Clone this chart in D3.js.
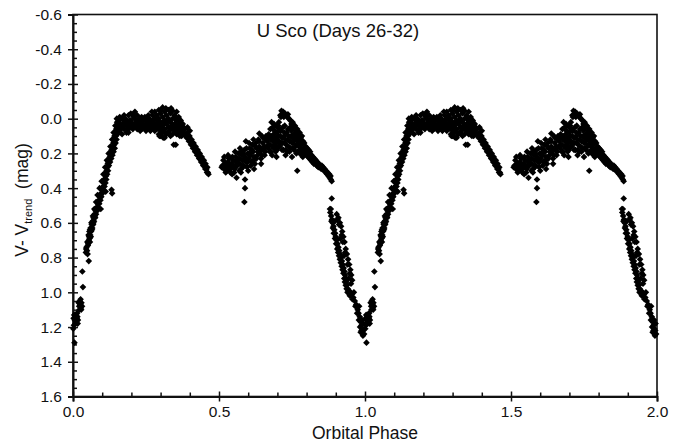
<!DOCTYPE html>
<html>
<head>
<meta charset="utf-8">
<script src="https://cdn.jsdelivr.net/npm/d3@7"></script>
<style>
body { margin: 0; background: #fff; }
svg text { font-family: "Liberation Sans", Arial, Helvetica, sans-serif; fill: #111; }
</style>
</head>
<body>
<div id="target"></div>
<script>
var width = 685,
    height = 445;

// axis ticks
var xTicks = [0, 0.5, 1, 1.5, 2];
var yTicks = [-0.6, -0.4, -0.2, 0, 0.2, 0.4, 0.6, 0.8, 1.0, 1.2, 1.4, 1.6];

// phased light curve, [phase, V - Vtrend] (one cycle, drawn twice)
var egress = [
    [0.001, 1.21], [0.003, 1.19], [0.005, 1.29], [0.006, 1.16], [0.008, 1.14], [0.010, 1.17],
    [0.011, 1.13], [0.013, 1.15], [0.015, 1.14], [0.017, 1.16], [0.019, 1.06], [0.021, 1.08],
    [0.023, 1.05], [0.025, 1.07], [0.027, 1.09], [0.029, 1.06], [0.031, 1.08], [0.032, 0.88],
    [0.034, 0.97], [0.054, 0.82], [0.004, 1.13], [0.009, 1.18], [0.014, 1.12], [0.016, 1.18],
    [0.022, 1.10], [0.026, 1.04], [0.028, 1.10], [0.002, 1.15]
];
var riseBranch = [
    [0.044, 0.77], [0.048, 0.76], [0.046, 0.74], [0.051, 0.73], [0.049, 0.71], [0.054, 0.70],
    [0.057, 0.69], [0.053, 0.67], [0.059, 0.67], [0.056, 0.65], [0.062, 0.65], [0.060, 0.63],
    [0.066, 0.63], [0.064, 0.61], [0.069, 0.61], [0.067, 0.59], [0.072, 0.59], [0.070, 0.57],
    [0.076, 0.57], [0.074, 0.55], [0.079, 0.55], [0.077, 0.53], [0.083, 0.53], [0.081, 0.51],
    [0.086, 0.51], [0.085, 0.49], [0.090, 0.49], [0.088, 0.47], [0.094, 0.47], [0.092, 0.45],
    [0.097, 0.45], [0.096, 0.43], [0.101, 0.43], [0.099, 0.41], [0.104, 0.41], [0.103, 0.39],
    [0.108, 0.39], [0.106, 0.37], [0.111, 0.37], [0.109, 0.35], [0.114, 0.35], [0.113, 0.33],
    [0.117, 0.32], [0.115, 0.30], [0.120, 0.30], [0.118, 0.28], [0.123, 0.27], [0.121, 0.25],
    [0.127, 0.25], [0.125, 0.23], [0.131, 0.23], [0.129, 0.21], [0.135, 0.21], [0.133, 0.19],
    [0.139, 0.19], [0.137, 0.17], [0.143, 0.17], [0.141, 0.15], [0.146, 0.14], [0.144, 0.12],
    [0.149, 0.12], [0.147, 0.10], [0.152, 0.09], [0.150, 0.07], [0.155, 0.07], [0.153, 0.05],
    [0.157, 0.04], [0.155, 0.02], [0.132, 0.41], [0.134, 0.43],
    [0.050, 0.78], [0.045, 0.75], [0.052, 0.72], [0.058, 0.71], [0.055, 0.68], [0.061, 0.68],
    [0.058, 0.64], [0.065, 0.64], [0.063, 0.60], [0.070, 0.60], [0.068, 0.56], [0.075, 0.56],
    [0.073, 0.52], [0.080, 0.52], [0.079, 0.48], [0.087, 0.48], [0.084, 0.44], [0.093, 0.44],
    [0.091, 0.40], [0.100, 0.40], [0.098, 0.36], [0.106, 0.35], [0.104, 0.32], [0.112, 0.31],
    [0.110, 0.28], [0.119, 0.26], [0.116, 0.24], [0.126, 0.22], [0.122, 0.20], [0.132, 0.18],
    [0.128, 0.16], [0.138, 0.14], [0.134, 0.12], [0.142, 0.10], [0.139, 0.08], [0.148, 0.06],
    [0.145, 0.04], [0.151, 0.02], [0.150, 0.00], [0.112, 0.42], [0.095, 0.52]
];
var firstHump = [
    [0.160, -0.01], [0.160, 0.03], [0.160, 0.07], [0.168, 0.00], [0.168, 0.05], [0.168, 0.09],
    [0.175, -0.02], [0.175, 0.02], [0.175, 0.06], [0.183, 0.01], [0.183, 0.04], [0.183, 0.08],
    [0.190, -0.02], [0.190, 0.03], [0.190, 0.06], [0.198, -0.03], [0.198, 0.01], [0.198, 0.05],
    [0.205, -0.02], [0.205, 0.03], [0.205, 0.06], [0.212, -0.04], [0.212, 0.00], [0.212, 0.04],
    [0.220, -0.02], [0.220, 0.02], [0.220, 0.06], [0.228, 0.00], [0.228, 0.04], [0.235, -0.01],
    [0.235, 0.03], [0.235, 0.06], [0.243, 0.01], [0.243, 0.05], [0.250, 0.00], [0.250, 0.03],
    [0.250, 0.07], [0.258, -0.02], [0.258, 0.02], [0.258, 0.05], [0.265, 0.01], [0.265, 0.04],
    [0.265, 0.07], [0.272, -0.02], [0.272, 0.02], [0.272, 0.05], [0.280, -0.04], [0.280, 0.00],
    [0.280, 0.04], [0.280, 0.07], [0.287, -0.02], [0.287, 0.03], [0.287, 0.06], [0.294, -0.05],
    [0.294, 0.00], [0.294, 0.05], [0.294, 0.09], [0.300, -0.03], [0.300, 0.02], [0.300, 0.07],
    [0.300, 0.10], [0.307, -0.065], [0.307, -0.01], [0.307, 0.04], [0.307, 0.08], [0.314, -0.04],
    [0.314, 0.01], [0.314, 0.06], [0.314, 0.11], [0.320, -0.02], [0.320, 0.03], [0.320, 0.09],
    [0.327, -0.05], [0.327, 0.00], [0.327, 0.05], [0.327, 0.08], [0.334, -0.03], [0.334, 0.02],
    [0.334, 0.06], [0.334, 0.10], [0.341, -0.045], [0.341, 0.00], [0.341, 0.04], [0.341, 0.09],
    [0.348, -0.02], [0.348, 0.03], [0.348, 0.07], [0.355, -0.04], [0.355, 0.01], [0.355, 0.05],
    [0.355, 0.09], [0.362, -0.01], [0.362, 0.03], [0.362, 0.07], [0.369, 0.01], [0.369, 0.05],
    [0.369, 0.09], [0.376, 0.03], [0.376, 0.07], [0.345, 0.15], [0.352, 0.15],
    [0.158, 0.01], [0.163, 0.05], [0.171, 0.03], [0.179, 0.00], [0.186, 0.06], [0.194, 0.01],
    [0.201, 0.04], [0.208, -0.01], [0.216, 0.02], [0.224, 0.05], [0.231, 0.01], [0.239, 0.04],
    [0.246, -0.01], [0.254, 0.05], [0.261, 0.00], [0.269, 0.06], [0.276, 0.02], [0.283, 0.05],
    [0.290, 0.01], [0.297, 0.03], [0.304, 0.06], [0.310, 0.02], [0.317, 0.08], [0.323, 0.01],
    [0.330, 0.07], [0.337, 0.04], [0.344, 0.06], [0.351, 0.00], [0.358, 0.07], [0.365, 0.05],
    [0.372, 0.03], [0.379, 0.05], [0.190, 0.08], [0.230, 0.07], [0.270, -0.04], [0.301, -0.05],
    [0.318, -0.06], [0.336, -0.06], [0.309, 0.11], [0.296, 0.10], [0.366, 0.10], [0.372, 0.10]
];
var firstDecline = [
    [0.383, 0.06], [0.387, 0.09], [0.392, 0.08], [0.395, 0.11], [0.399, 0.10], [0.402, 0.13],
    [0.406, 0.12], [0.410, 0.15], [0.413, 0.14], [0.416, 0.17], [0.420, 0.16], [0.423, 0.19],
    [0.427, 0.18], [0.430, 0.21], [0.434, 0.20], [0.437, 0.23], [0.441, 0.22], [0.444, 0.25],
    [0.448, 0.24], [0.451, 0.27], [0.454, 0.26], [0.457, 0.29], [0.460, 0.28], [0.462, 0.31],
    [0.381, 0.09], [0.389, 0.11], [0.397, 0.13], [0.404, 0.15], [0.411, 0.17], [0.418, 0.19],
    [0.425, 0.21], [0.432, 0.23], [0.439, 0.25], [0.446, 0.27], [0.453, 0.29], [0.459, 0.31],
    [0.464, 0.32], [0.392, 0.05], [0.400, 0.07]
];
var secondRise = [
    [0.512, 0.27], [0.515, 0.24], [0.517, 0.29], [0.521, 0.26], [0.524, 0.28], [0.527, 0.30],
    [0.530, 0.25], [0.533, 0.27], [0.536, 0.29], [0.539, 0.31], [0.542, 0.26], [0.545, 0.28],
    [0.548, 0.24], [0.551, 0.27], [0.554, 0.29], [0.557, 0.22], [0.560, 0.25], [0.563, 0.27],
    [0.566, 0.20], [0.569, 0.23], [0.572, 0.26], [0.575, 0.29], [0.578, 0.21], [0.581, 0.24],
    [0.584, 0.27], [0.587, 0.18], [0.590, 0.22], [0.593, 0.25], [0.596, 0.28], [0.599, 0.20],
    [0.602, 0.23], [0.605, 0.17], [0.608, 0.21], [0.611, 0.25], [0.614, 0.15], [0.617, 0.19],
    [0.620, 0.22], [0.623, 0.26], [0.626, 0.14], [0.629, 0.17], [0.632, 0.21], [0.635, 0.12],
    [0.638, 0.16], [0.641, 0.19], [0.644, 0.23], [0.647, 0.10], [0.650, 0.14], [0.653, 0.18],
    [0.656, 0.21], [0.659, 0.12], [0.662, 0.16], [0.555, 0.19], [0.592, 0.13], [0.638, 0.085],
    [0.560, 0.34], [0.589, 0.35], [0.589, 0.40], [0.587, 0.48], [0.644, 0.26], [0.620, 0.29],
    [0.545, 0.32], [0.575, 0.31], [0.600, 0.30], [0.509, 0.28],
    [0.518, 0.22], [0.523, 0.31], [0.529, 0.28], [0.534, 0.23], [0.540, 0.29], [0.546, 0.22],
    [0.552, 0.31], [0.558, 0.27], [0.564, 0.24], [0.570, 0.30], [0.576, 0.19], [0.582, 0.28],
    [0.588, 0.23], [0.594, 0.17], [0.598, 0.25], [0.604, 0.20], [0.609, 0.27], [0.613, 0.18],
    [0.618, 0.24], [0.624, 0.16], [0.628, 0.23], [0.633, 0.19], [0.637, 0.13], [0.642, 0.17],
    [0.646, 0.21], [0.651, 0.11], [0.655, 0.16], [0.658, 0.19], [0.661, 0.10], [0.531, 0.21],
    [0.572, 0.17], [0.603, 0.14], [0.618, 0.12], [0.584, 0.20]
];
var secondPeak = [
    [0.670, 0.09], [0.676, 0.06], [0.680, 0.02], [0.684, 0.05], [0.690, 0.07], [0.695, 0.04],
    [0.700, 0.08], [0.705, 0.02], [0.710, -0.02], [0.714, -0.045], [0.718, -0.03], [0.722, -0.01],
    [0.726, -0.03], [0.731, -0.02], [0.736, -0.025], [0.740, 0.00], [0.744, 0.01], [0.748, 0.03],
    [0.752, 0.02], [0.756, 0.05], [0.760, 0.04], [0.764, 0.07], [0.768, 0.06], [0.772, 0.09],
    [0.776, 0.08], [0.780, 0.11], [0.784, 0.10], [0.788, 0.13],
    [0.665, 0.13], [0.668, 0.17], [0.672, 0.11], [0.675, 0.15], [0.678, 0.19], [0.682, 0.10],
    [0.685, 0.13], [0.688, 0.17], [0.692, 0.11], [0.695, 0.14], [0.698, 0.18], [0.702, 0.10],
    [0.705, 0.13], [0.708, 0.16], [0.712, 0.07], [0.715, 0.11], [0.718, 0.14], [0.721, 0.18],
    [0.724, 0.08], [0.727, 0.12], [0.730, 0.15], [0.733, 0.19], [0.736, 0.06], [0.739, 0.10],
    [0.742, 0.13], [0.745, 0.17], [0.748, 0.07], [0.751, 0.11], [0.754, 0.14], [0.757, 0.18],
    [0.760, 0.09], [0.763, 0.12], [0.766, 0.15], [0.769, 0.19], [0.772, 0.13], [0.775, 0.16],
    [0.778, 0.20], [0.781, 0.15], [0.784, 0.18], [0.787, 0.22], [0.790, 0.17],
    [0.697, 0.22], [0.768, 0.30], [0.682, 0.21], [0.728, 0.21], [0.750, 0.22], [0.725, 0.04],
    [0.700, 0.05],
    [0.667, 0.10], [0.671, 0.15], [0.674, 0.19], [0.679, 0.12], [0.683, 0.16], [0.687, 0.09],
    [0.691, 0.15], [0.694, 0.19], [0.699, 0.12], [0.703, 0.16], [0.707, 0.06], [0.710, 0.10],
    [0.713, 0.14], [0.716, 0.18], [0.719, 0.05], [0.723, 0.10], [0.726, 0.14], [0.729, 0.18],
    [0.732, 0.08], [0.735, 0.12], [0.738, 0.16], [0.741, 0.19], [0.744, 0.05], [0.747, 0.10],
    [0.750, 0.14], [0.753, 0.17], [0.756, 0.09], [0.759, 0.12], [0.762, 0.16], [0.765, 0.20],
    [0.768, 0.10], [0.771, 0.15], [0.774, 0.19], [0.777, 0.12], [0.780, 0.17], [0.783, 0.21],
    [0.786, 0.14], [0.789, 0.19], [0.712, -0.01], [0.720, -0.04], [0.733, -0.01], [0.703, 0.04],
    [0.688, 0.03]
];
var secondDecline = [
    [0.792, 0.14], [0.797, 0.16], [0.802, 0.17], [0.807, 0.18], [0.812, 0.19], [0.817, 0.21],
    [0.822, 0.22], [0.827, 0.23], [0.832, 0.24], [0.837, 0.25], [0.842, 0.26], [0.847, 0.27],
    [0.852, 0.27], [0.857, 0.28], [0.862, 0.29], [0.867, 0.30], [0.872, 0.31],
    [0.795, 0.20], [0.800, 0.21], [0.805, 0.22], [0.810, 0.23], [0.815, 0.24], [0.820, 0.25],
    [0.825, 0.26], [0.830, 0.26], [0.835, 0.27], [0.840, 0.28], [0.845, 0.28], [0.850, 0.29],
    [0.855, 0.29], [0.860, 0.30], [0.865, 0.31], [0.870, 0.32], [0.875, 0.33], [0.879, 0.34],
    [0.883, 0.35], [0.886, 0.36],
    [0.794, 0.17], [0.799, 0.18], [0.804, 0.20], [0.809, 0.20], [0.814, 0.21], [0.819, 0.23],
    [0.824, 0.24], [0.829, 0.25], [0.834, 0.25], [0.839, 0.26], [0.844, 0.27], [0.849, 0.28],
    [0.854, 0.28], [0.859, 0.29], [0.864, 0.30], [0.869, 0.31], [0.874, 0.32], [0.878, 0.32],
    [0.882, 0.33]
];
var ingress = [
    [0.886, 0.46], [0.880, 0.52], [0.881, 0.54], [0.884, 0.56], [0.887, 0.58], [0.889, 0.60],
    [0.892, 0.62], [0.895, 0.64], [0.898, 0.66], [0.900, 0.68], [0.903, 0.70], [0.906, 0.72],
    [0.909, 0.74], [0.912, 0.76], [0.915, 0.78], [0.918, 0.80], [0.921, 0.82], [0.924, 0.84],
    [0.927, 0.86], [0.930, 0.88], [0.932, 0.90], [0.934, 0.92], [0.936, 0.94], [0.938, 0.96],
    [0.941, 0.98], [0.945, 0.99], [0.950, 1.00], [0.955, 1.01], [0.960, 1.03], [0.965, 1.05],
    [0.970, 1.07], [0.975, 1.10], [0.978, 1.12], [0.982, 1.14], [0.985, 1.17], [0.988, 1.19],
    [0.991, 1.21], [0.994, 1.22], [0.997, 1.24],
    [0.903, 0.55], [0.909, 0.57], [0.914, 0.60], [0.918, 0.62], [0.922, 0.65], [0.926, 0.68],
    [0.930, 0.71], [0.934, 0.75], [0.938, 0.78], [0.942, 0.81], [0.946, 0.84], [0.950, 0.87],
    [0.953, 0.90], [0.956, 0.93],
    [0.897, 0.59], [0.915, 0.69], [0.928, 0.79], [0.944, 0.92], [0.962, 1.00], [0.980, 1.08],
    [0.990, 1.16], [0.985, 1.23], [0.995, 1.18],
    [0.883, 0.52], [0.885, 0.59], [0.890, 0.63], [0.893, 0.66], [0.897, 0.69], [0.901, 0.72],
    [0.905, 0.75], [0.908, 0.77], [0.911, 0.79], [0.914, 0.81], [0.917, 0.83], [0.920, 0.85],
    [0.923, 0.87], [0.926, 0.89], [0.929, 0.92], [0.931, 0.94], [0.934, 0.96], [0.937, 0.98],
    [0.940, 1.00], [0.948, 1.02], [0.957, 1.04], [0.967, 1.08], [0.973, 1.12], [0.979, 1.16],
    [0.983, 1.20], [0.988, 1.22], [0.993, 1.25], [0.906, 0.58], [0.911, 0.61], [0.920, 0.67],
    [0.924, 0.71], [0.932, 0.77], [0.940, 0.84], [0.948, 0.89], [0.952, 0.95]
];

var cycle = [].concat(egress, riseBranch, firstHump, firstDecline,
    secondRise, secondPeak, secondDecline, ingress);

// the same cycle is shown at phase and phase + 1
var points = [];
[0, 1].forEach(function (k) {
    cycle.forEach(function (d) {
        points.push({phase: d[0] + k, mag: d[1]});
    });
});

var xScale = d3.scaleLinear().domain([0, 2]).range([73, 657]);
var yScale = d3.scaleLinear().domain([-0.6, 1.6]).range([14.5, 396.5]);

var svg = d3.select('#target').append('svg')
    .attr('width', width)
    .attr('height', height);

var fmt = function (d) { return d.toFixed(1); };

// minor ticks (inside)
var xMinor = d3.range(0, 2.001, 0.1).filter(function (d) {
    return Math.abs(d * 2 - Math.round(d * 2)) > 1e-6;
});
var yMinor = d3.range(-0.6, 1.601, 0.05).filter(function (d) {
    return Math.abs(d * 5 - Math.round(d * 5)) > 1e-6;
});

svg.append('g')
    .attr('transform', 'translate(0,' + yScale(1.6) + ')')
    .call(d3.axisBottom(xScale).tickValues(xMinor).tickSize(-4).tickFormat(''))
    .call(function (g) { g.select('.domain').remove(); });
svg.append('g')
    .attr('transform', 'translate(' + xScale(0) + ',0)')
    .call(d3.axisLeft(yScale).tickValues(yMinor).tickSize(-4).tickFormat(''))
    .call(function (g) { g.select('.domain').remove(); });

// frame
svg.append('rect')
    .attr('x', xScale(0))
    .attr('y', yScale(-0.6))
    .attr('width', xScale(2) - xScale(0))
    .attr('height', yScale(1.6) - yScale(-0.6))
    .attr('fill', 'none')
    .attr('stroke', '#111')
    .attr('stroke-width', 1.6);

var xAxis = svg.append('g')
    .attr('transform', 'translate(0,' + yScale(1.6) + ')')
    .call(d3.axisBottom(xScale).tickValues(xTicks).tickSize(5).tickPadding(4.5).tickFormat(fmt));
xAxis.selectAll('.tick line').attr('y1', -5);

var yAxis = svg.append('g')
    .attr('transform', 'translate(' + xScale(0) + ',0)')
    .call(d3.axisLeft(yScale).tickValues(yTicks).tickSize(5).tickPadding(6).tickFormat(fmt));
yAxis.selectAll('.tick line').attr('x1', 5);

svg.selectAll('.domain').attr('stroke', '#111').attr('stroke-width', 2);
svg.selectAll('.tick line').attr('stroke', '#111').attr('stroke-width', 1.5);
svg.selectAll('.tick text').style('font-size', '15.5px').attr('fill', '#111');

// points
svg.append('g')
    .selectAll('path')
    .data(points)
    .enter()
    .append('path')
    .attr('d', d3.symbol().type(d3.symbolDiamond2).size(28))
    .attr('transform', function (d) {
        return 'translate(' + xScale(d.phase) + ',' + yScale(d.mag) + ')';
    })
    .attr('fill', '#000');

// titles
svg.append('text')
    .attr('x', 338)
    .attr('y', 37)
    .attr('text-anchor', 'middle')
    .style('font-size', '18.5px')
    .text('U Sco (Days 26-32)');

svg.append('text')
    .attr('x', xScale(1))
    .attr('y', 438.5)
    .attr('text-anchor', 'middle')
    .style('font-size', '17.5px')
    .text('Orbital Phase');

var yLab = svg.append('text')
    .attr('transform', 'translate(28,200) rotate(-90)')
    .attr('text-anchor', 'middle')
    .style('font-size', '17.5px')
    .style('white-space', 'pre');
yLab.append('tspan').text('V- V');
yLab.append('tspan').attr('dy', 4).style('font-size', '11px').text('trend');
yLab.append('tspan').attr('dy', -4).text('  (mag)');
</script>
</body>
</html>
